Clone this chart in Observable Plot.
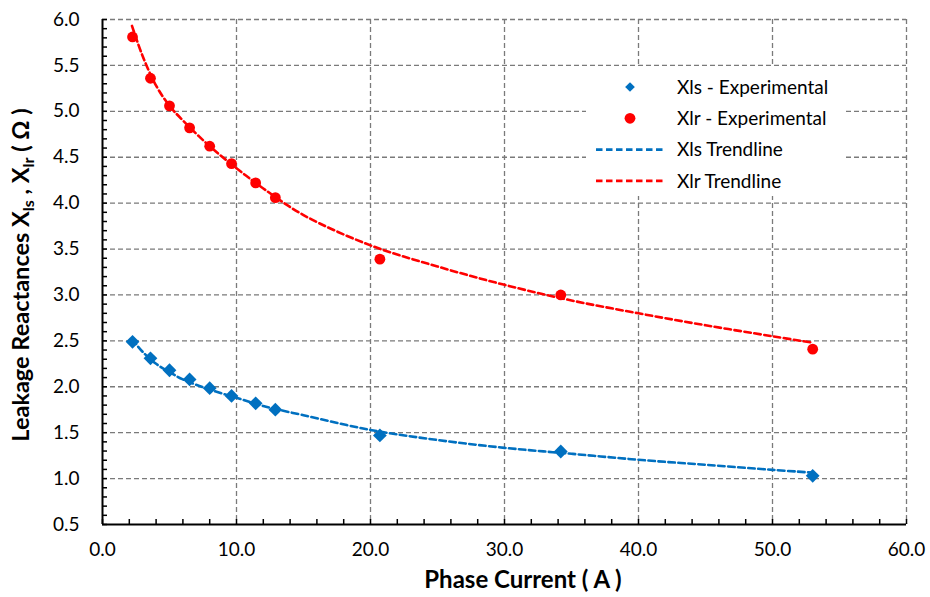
<!DOCTYPE html>
<html>
<head>
<meta charset="utf-8">
<script src="https://cdn.jsdelivr.net/npm/d3@7"></script>
<script src="https://cdn.jsdelivr.net/npm/@observablehq/plot@0.6"></script>
<style>
  html, body { margin: 0; padding: 0; background: #fff; }
  #chart svg { display: block; }
</style>
</head>
<body>
<div id="chart"></div>
<script>
// Experimental data (phase current in A)
const current = [2.24, 3.58, 5.0, 6.5, 8.0, 9.63, 11.43, 12.9, 20.7, 34.2, 53.0];
const xlsExp = [2.49, 2.31, 2.18, 2.08, 1.985, 1.90, 1.82, 1.75, 1.47, 1.295, 1.03];
const xlrExp = [5.81, 5.36, 5.06, 4.82, 4.62, 4.43, 4.22, 4.06, 3.39, 3.00, 2.41];

// Trendlines
const trendX = [2.2, 3, 4, 5, 6, 8, 10, 12, 15, 20, 25, 30, 35, 40, 45, 50, 53];
const xlsTrend = [2.52, 2.38, 2.25, 2.16, 2.08, 1.97, 1.88, 1.79, 1.69, 1.53, 1.42, 1.335, 1.27, 1.205, 1.15, 1.095, 1.065];
const xlrTrend = [5.93, 5.60, 5.28, 5.06, 4.90, 4.62, 4.38, 4.16, 3.87, 3.54, 3.31, 3.11, 2.94, 2.80, 2.67, 2.55, 2.48];

// Ticks
const xTicks = [0, 10, 20, 30, 40, 50, 60];
const xGrid = [10, 20, 30, 40, 50, 60];
const xMinor = d3.range(0, 60.001, 2);
const yTicks = [0.5, 1.0, 1.5, 2.0, 2.5, 3.0, 3.5, 4.0, 4.5, 5.0, 5.5, 6.0];
const yGrid = [1.0, 1.5, 2.0, 2.5, 3.0, 3.5, 4.0, 4.5, 5.0, 5.5, 6.0];
const yMinor = d3.range(5, 61).map(v => v / 10);

const legendItems = [
  {label: "Xls - Experimental", kind: "diamond", color: "#0070C0"},
  {label: "Xlr - Experimental", kind: "circle", color: "#FF0000"},
  {label: "Xls Trendline", kind: "line", color: "#0070C0"},
  {label: "Xlr Trendline", kind: "line", color: "#FF0000"}
];

const lsPts = current.map((c, i) => ({x: c, y: xlsExp[i]}));
const lrPts = current.map((c, i) => ({x: c, y: xlrExp[i]}));
const lsTr = trendX.map((c, i) => ({x: c, y: xlsTrend[i]}));
const lrTr = trendX.map((c, i) => ({x: c, y: xlrTrend[i]}));

const W = 930, H = 597, ML = 102, MR = 24, MT = 19, MB = 73;
const gridStyle = {stroke: "#7a7a7a", strokeOpacity: 1, strokeWidth: 1.3, strokeDasharray: "5,3"};
const FONT = "Lato, 'Open Sans', sans-serif";

const chart = Plot.plot({
  width: W, height: H,
  marginLeft: ML, marginRight: MR, marginTop: MT, marginBottom: MB,
  style: {fontFamily: FONT, fontSize: "19px", color: "#000", background: "#fff"},
  x: {domain: [0, 60]},
  y: {domain: [0.5, 6]},
  marks: [
    Plot.gridX(xGrid, gridStyle),
    Plot.gridY(yGrid, gridStyle),
    Plot.axisY(yMinor, {tickSize: 5, dx: 5, tickFormat: () => "", label: null, stroke: "#000", strokeWidth: 1.5}),
    Plot.axisX(xMinor, {tickSize: 5, dy: -5, tickFormat: () => "", label: null, stroke: "#000", strokeWidth: 1.5}),
    Plot.axisY(yTicks, {tickSize: 0, tickPadding: 23, tickFormat: d => d.toFixed(1), label: null, fill: "#000"}),
    Plot.axisX(xTicks, {tickSize: 0, tickPadding: 18, tickFormat: d => d.toFixed(1), label: null, fill: "#000"}),
    Plot.ruleX([0], {stroke: "#000", strokeWidth: 2}),
    Plot.ruleY([0.5], {stroke: "#000", strokeWidth: 2}),
    Plot.line(lrTr, {x: "x", y: "y", stroke: "#FF0000", strokeWidth: 2.6, strokeDasharray: "6.5,3.5", curve: "catmull-rom"}),
    Plot.line(lsTr, {x: "x", y: "y", stroke: "#0070C0", strokeWidth: 2.6, strokeDasharray: "6.5,3.5", curve: "catmull-rom"}),
    Plot.dot(lrPts, {x: "x", y: "y", r: 5.4, fill: "#FF0000", symbol: "circle"}),
    Plot.dot(lsPts, {x: "x", y: "y", r: 6.2, fill: "#0070C0", symbol: "diamond2"})
  ]
});

document.getElementById("chart").appendChild(chart);

const svg = d3.select(chart);

// X axis title
svg.append("text")
  .attr("x", 523)
  .attr("y", 588)
  .attr("text-anchor", "middle")
  .attr("font-family", FONT)
  .attr("font-weight", "bold")
  .attr("font-size", 24)
  .attr("fill", "#000")
  .text("Phase Current ( A )");

// Y axis title with subscripts
const yt = svg.append("text")
  .attr("transform", "translate(29,275) rotate(-90)")
  .attr("text-anchor", "middle")
  .attr("font-family", FONT)
  .attr("font-weight", "bold")
  .attr("font-size", 23.5)
  .attr("fill", "#000");
yt.append("tspan").text("Leakage Reactances X");
yt.append("tspan").attr("font-size", 16).attr("dy", 5).text("ls");
yt.append("tspan").attr("dy", -5).text(" , X");
yt.append("tspan").attr("font-size", 16).attr("dy", 5).text("lr");
yt.append("tspan").attr("dy", -5).text(" ( Ω )");

// Legend
const lg = svg.append("g").attr("font-family", FONT).attr("font-size", 19).attr("text-anchor", "start");
lg.append("rect").attr("x", 586).attr("y", 67).attr("width", 260).attr("height", 129).attr("fill", "#fff");
legendItems.forEach((d, i) => {
  const cy = 87 + i * 31.3;
  if (d.kind === "diamond") {
    lg.append("path").attr("d", d3.symbol(d3.symbolDiamond2, 60)()).attr("transform", `translate(630,${cy})`).attr("fill", d.color);
  } else if (d.kind === "circle") {
    lg.append("circle").attr("cx", 630).attr("cy", cy).attr("r", 5.4).attr("fill", d.color);
  } else {
    lg.append("line").attr("x1", 596).attr("x2", 666).attr("y1", cy).attr("y2", cy)
      .attr("stroke", d.color).attr("stroke-width", 2.6).attr("stroke-dasharray", "6.5,3.5");
  }
  lg.append("text").attr("x", 677).attr("y", cy).attr("dy", "0.35em").attr("text-anchor", "start").attr("fill", "#000").text(d.label);
});
</script>
</body>
</html>
